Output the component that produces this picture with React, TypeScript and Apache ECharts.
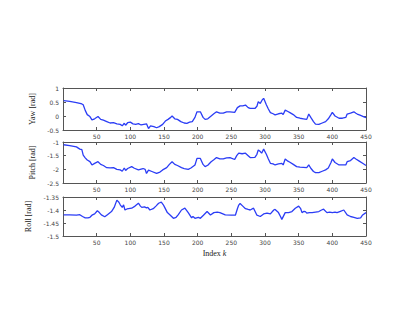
import React, { useEffect, useRef } from "react";
import * as echarts from "echarts";

const xTicks = [50, 100, 150, 200, 250, 300, 350, 400, 450];

const yawIdx = [1,10,20,25,28,30,33,36,40,43,47,52,56,60,65,70,75,80,85,88,91,93,96,100,104,108,112,116,120,124,127,130,135,139,143,148,152,156,160,162,166,170,175,180,184,188,192,196,199,204,208,211,215,220,224,228,233,238,243,248,255,259,263,267,271,275,278,285,288,290,293,296,298,302,305,308,312,315,320,325,327,330,334,337,342,347,352,357,362,365,368,372,375,380,385,390,394,398,400,404,410,415,420,422,427,432,435,437,442,446,450];
const yawVals = [0.55,0.52,0.48,0.45,0.43,0.4,0.2,0.05,-0.02,-0.14,-0.1,-0.02,-0.12,-0.15,-0.2,-0.25,-0.24,-0.28,-0.3,-0.35,-0.26,-0.33,-0.24,-0.22,-0.28,-0.3,-0.27,-0.32,-0.3,-0.28,-0.45,-0.35,-0.38,-0.42,-0.38,-0.3,-0.18,-0.12,-0.05,0.0,-0.1,-0.12,-0.2,-0.25,-0.26,-0.22,-0.2,-0.05,0.15,0.15,-0.05,-0.12,-0.1,0.0,0.08,0.15,0.1,0.1,0.15,0.15,0.13,0.3,0.36,0.36,0.39,0.3,0.27,0.27,0.35,0.51,0.45,0.58,0.63,0.4,0.25,0.12,0.08,0.04,0.08,0.1,0.05,0.21,0.16,0.12,0.05,-0.05,-0.08,-0.1,-0.12,0.07,-0.05,-0.2,-0.29,-0.3,-0.25,-0.2,-0.1,0.05,0.13,0.0,-0.08,-0.08,-0.05,0.07,0.1,0.15,0.1,0.07,0.02,-0.02,-0.06];

const pitchIdx = [1,10,20,25,28,30,33,36,40,43,47,52,56,60,65,70,75,80,85,88,91,93,96,102,106,112,116,119,122,124,127,132,139,144,148,154,158,162,166,170,176,180,186,190,196,199,204,208,211,215,220,224,228,233,238,243,248,255,258,261,266,271,275,278,285,288,290,293,295,298,302,305,308,312,315,320,325,327,330,334,337,342,347,352,357,362,365,368,372,375,380,385,390,394,398,400,404,410,415,420,422,427,432,435,440,445,450];
const pitchVals = [-1.1,-1.13,-1.18,-1.26,-1.28,-1.48,-1.58,-1.66,-1.72,-1.84,-1.78,-1.72,-1.82,-1.86,-1.94,-1.95,-1.94,-2.0,-2.02,-2.07,-1.95,-2.04,-1.97,-1.9,-1.96,-2.02,-1.99,-1.97,-2.0,-2.15,-2.03,-2.08,-2.15,-2.1,-2.02,-1.94,-1.82,-1.72,-1.82,-1.86,-1.94,-1.97,-2.0,-1.95,-1.84,-1.6,-1.6,-1.82,-1.9,-1.85,-1.72,-1.65,-1.57,-1.62,-1.62,-1.58,-1.57,-1.64,-1.5,-1.41,-1.43,-1.41,-1.5,-1.57,-1.56,-1.45,-1.29,-1.35,-1.41,-1.26,-1.45,-1.62,-1.78,-1.8,-1.84,-1.8,-1.78,-1.84,-1.62,-1.7,-1.74,-1.82,-1.9,-1.92,-1.93,-1.94,-1.84,-1.96,-2.08,-2.12,-2.12,-2.07,-2.02,-1.95,-1.75,-1.62,-1.75,-1.84,-1.84,-1.84,-1.72,-1.68,-1.57,-1.62,-1.7,-1.78,-1.86];

const rollIdx = [1,10,20,25,29,33,37,40,43,47,51,54,57,62,66,72,76,80,83,85,88,90,92,95,102,107,112,115,117,121,124,126,129,134,138,142,146,149,151,155,159,164,168,171,176,181,186,191,193,196,201,204,209,214,219,224,229,233,241,250,256,259,261,263,267,271,275,278,283,288,293,298,303,308,313,315,320,323,325,330,335,340,345,350,353,355,358,360,362,366,370,375,380,384,387,392,396,400,404,407,412,417,422,427,432,437,442,445,450];
const rollVals = [-1.419,-1.419,-1.42,-1.418,-1.425,-1.43,-1.43,-1.428,-1.42,-1.415,-1.403,-1.41,-1.419,-1.426,-1.418,-1.406,-1.39,-1.362,-1.37,-1.38,-1.39,-1.38,-1.4,-1.396,-1.393,-1.385,-1.374,-1.385,-1.39,-1.388,-1.392,-1.39,-1.4,-1.395,-1.385,-1.374,-1.37,-1.38,-1.39,-1.41,-1.419,-1.432,-1.428,-1.419,-1.4,-1.393,-1.41,-1.43,-1.425,-1.432,-1.428,-1.432,-1.419,-1.406,-1.419,-1.41,-1.408,-1.41,-1.419,-1.42,-1.42,-1.395,-1.381,-1.375,-1.385,-1.395,-1.398,-1.4,-1.393,-1.42,-1.425,-1.415,-1.412,-1.415,-1.4,-1.398,-1.41,-1.425,-1.436,-1.41,-1.41,-1.406,-1.393,-1.385,-1.395,-1.41,-1.405,-1.406,-1.412,-1.41,-1.41,-1.408,-1.406,-1.4,-1.397,-1.41,-1.408,-1.41,-1.408,-1.41,-1.405,-1.4,-1.419,-1.425,-1.428,-1.432,-1.43,-1.419,-1.41];

const panelNames = ["Yaw [rad]", "Pitch [rad]", "Roll [rad]"];
const yMins = [-0.5, -2.5, -1.5];
const yMaxs = [1, -1, -1.35];
const yIntervals = [0.5, 0.5, 0.05];

const grids = [
  { top: 88, height: 42 },
  { top: 142, height: 41 },
  { top: 197, height: 39 },
];

const fmtNum = (v: number) => String(Math.round(v * 1000) / 1000);

export default function App() {
  const ref = useRef<HTMLDivElement>(null);
  useEffect(() => {
    if (!ref.current) return;
    const chart = echarts.init(ref.current, undefined, { renderer: "svg" });
    const axisColor = "#555";
    const tickFont = { fontSize: 6, color: "#444", fontFamily: "DejaVu Sans" };
    const xAxes: any[] = [];
    const yAxes: any[] = [];
    const series: any[] = [];
    const data = [
      yawIdx.map((x, i) => [x, yawVals[i]]),
      pitchIdx.map((x, i) => [x, pitchVals[i]]),
      rollIdx.map((x, i) => [x, rollVals[i]]),
    ];
    grids.forEach((g, i) => {
      xAxes.push({
        type: "value", gridIndex: i, min: 0, max: 450, interval: 50, position: "bottom",
        axisLine: { show: true, onZero: false, lineStyle: { color: axisColor, width: 1 } },
        axisTick: { show: true, inside: true, length: 3, lineStyle: { color: axisColor } },
        axisLabel: { ...tickFont, margin: 3, formatter: (v: number) => (xTicks.includes(v) ? String(v) : "") },
        splitLine: { show: false },
        name: i === 2 ? "Index {i|k}" : "",
        nameLocation: "middle",
        nameGap: 13,
        nameTextStyle: { fontFamily: "Liberation Serif", fontSize: 8, color: "#222", rich: { i: { fontStyle: "italic", fontFamily: "Liberation Serif", fontSize: 8, color: "#222" } } },
      });
      xAxes.push({
        type: "value", gridIndex: i, min: 0, max: 450, interval: 50, position: "top",
        axisLine: { show: true, onZero: false, lineStyle: { color: axisColor, width: 1 } },
        axisTick: { show: true, inside: true, length: 3, lineStyle: { color: axisColor } },
        axisLabel: { show: false },
        splitLine: { show: false },
      });
      yAxes.push({
        type: "value", gridIndex: i, min: yMins[i], max: yMaxs[i], interval: yIntervals[i], position: "left",
        axisLine: { show: true, onZero: false, lineStyle: { color: axisColor, width: 1 } },
        axisTick: { show: true, inside: true, length: 3, lineStyle: { color: axisColor } },
        axisLabel: { ...tickFont, margin: 4, formatter: fmtNum },
        splitLine: { show: false },
        name: panelNames[i],
        nameLocation: "middle",
        nameRotate: 90,
        nameGap: 18,
        nameTextStyle: { fontFamily: "Liberation Serif", fontSize: 8, color: "#222" },
      });
      yAxes.push({
        type: "value", gridIndex: i, min: yMins[i], max: yMaxs[i], interval: yIntervals[i], position: "right",
        axisLine: { show: true, onZero: false, lineStyle: { color: axisColor, width: 1 } },
        axisTick: { show: true, inside: true, length: 3, lineStyle: { color: axisColor } },
        axisLabel: { show: false },
        splitLine: { show: false },
      });
      series.push({
        type: "line", xAxisIndex: 2 * i, yAxisIndex: 2 * i, data: data[i],
        showSymbol: false, symbol: "none",
        lineStyle: { color: "#2b3df5", width: 1.3 },
      });
    });
    chart.setOption({
      animation: false,
      backgroundColor: "#fff",
      grid: grids.map((g) => ({ left: 63, width: 303, top: g.top, height: g.height, containLabel: false })),
      xAxis: xAxes,
      yAxis: yAxes,
      series,
    });
    return () => chart.dispose();
  }, []);
  return (
    <div
      ref={ref}
      style={{ position: "fixed", left: 0, top: 0, width: 415, height: 332 }}
    />
  );
}
